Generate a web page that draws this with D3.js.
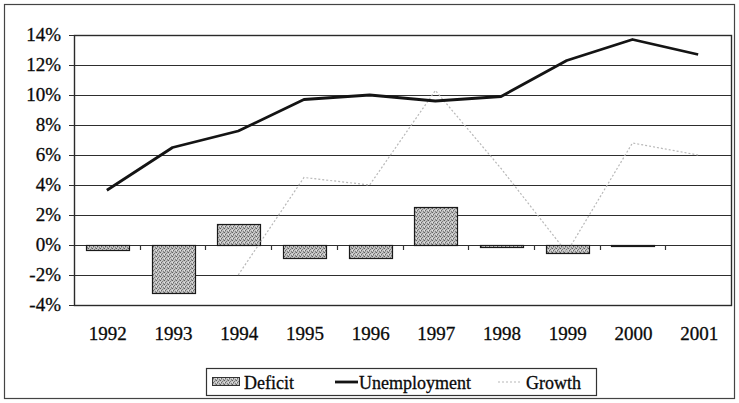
<!DOCTYPE html>
<html>
<head>
<meta charset="utf-8">
<script src="https://cdn.jsdelivr.net/npm/d3@7"></script>
<style>
  body { margin: 0; background: #fff; }
  svg { display: block; font-family: "Liberation Serif", "Times New Roman", serif; }
  text { fill: #0a0a0a; stroke: #0a0a0a; stroke-width: 0.3px; }
</style>
</head>
<body>
<svg id="chart" width="739" height="403"></svg>
<script>
// data (percent)
const years = ["1992", "1993", "1994", "1995", "1996", "1997", "1998", "1999", "2000", "2001"];
const deficit = [-0.35, -3.2, 1.4, -0.85, -0.85, 2.5, -0.15, -0.5, -0.08, 0];
const unemployment = [3.65, 6.5, 7.6, 9.7, 10.0, 9.6, 9.9, 12.3, 13.7, 12.7];
const growth = [null, null, -2.0, 4.5, 4.0, 10.3, 5.1, -0.5, 6.8, 6.0];
const yTicks = [-4, -2, 0, 2, 4, 6, 8, 10, 12, 14];

const svg = d3.select("#chart");
const plotL = 74, plotR = 731, plotT = 35, plotB = 305;

// speckled fill for the bars
const defs = svg.append("defs");
const pat = defs.append("pattern").attr("id", "speckle")
    .attr("width", 4).attr("height", 4).attr("patternUnits", "userSpaceOnUse");
pat.append("rect").attr("width", 4).attr("height", 4).attr("fill", "#c4c4c4");
[[0,0,"#5e5e5e"],[2,1,"#7a7a7a"],[1,2,"#6a6a6a"],[3,3,"#808080"],[3,0,"#999"],[1,3,"#a0a0a0"],[0,2,"#e4e4e4"]]
  .forEach(function (p) {
    pat.append("rect").attr("x", p[0]).attr("y", p[1]).attr("width", 1).attr("height", 1).attr("fill", p[2]);
  });

// outer frame
svg.append("rect").attr("x", 4.5).attr("y", 4.5).attr("width", 730).attr("height", 394)
    .attr("fill", "none").attr("stroke", "#444").attr("stroke-width", 1.2);

const x = d3.scaleBand().domain(years).range([plotL, plotR]).padding(0);
const y = d3.scaleLinear().domain([-4, 14]).range([plotB, plotT]);
const bw = x.bandwidth();

// grid lines + y ticks
svg.append("g").selectAll("line").data(yTicks).join("line")
    .attr("x1", plotL - 5).attr("x2", plotR)
    .attr("y1", d => Math.round(y(d)) + 0.5).attr("y2", d => Math.round(y(d)) + 0.5)
    .attr("stroke", "#2e2e2e").attr("stroke-width", 1.2);

// plot border
svg.append("rect").attr("x", plotL + 0.5).attr("y", Math.round(y(14)) + 0.5)
    .attr("width", plotR - plotL).attr("height", Math.round(y(-4)) - Math.round(y(14)))
    .attr("fill", "none").attr("stroke", "#2a2a2a").attr("stroke-width", 1.4);

// y labels
svg.append("g").selectAll("text").data(yTicks).join("text")
    .attr("x", 61).attr("y", d => y(d)).attr("dy", "0.34em")
    .attr("text-anchor", "end").attr("font-size", 19)
    .text(d => d + "%");

// bars
svg.append("g").selectAll("rect").data(deficit).join("rect")
    .attr("x", (d, i) => Math.round(x(years[i]) + bw * 0.18) + 0.5)
    .attr("width", Math.round(bw * 0.65))
    .attr("y", d => Math.round(y(Math.max(0, d))) + 0.5)
    .attr("height", d => Math.max(0, Math.round(Math.abs(y(d) - y(0)))))
    .attr("fill", "url(#speckle)")
    .attr("stroke", d => d === 0 ? "none" : "#1a1a1a").attr("stroke-width", 1.2);

// category ticks on the zero line
svg.append("g").selectAll("line").data(years.slice(1)).join("line")
    .attr("x1", d => Math.round(x(d)) + 0.5).attr("x2", d => Math.round(x(d)) + 0.5)
    .attr("y1", y(0)).attr("y2", y(0) + 5)
    .attr("stroke", "#333").attr("stroke-width", 1.2);

// x labels
svg.append("g").selectAll("text").data(years).join("text")
    .attr("x", d => x(d) + bw / 2 + 1).attr("y", 340)
    .attr("text-anchor", "middle").attr("font-size", 19)
    .text(d => d);

const cx = i => x(years[i]) + bw / 2;

// growth line
const gLine = d3.line().defined(d => d !== null).x((d, i) => cx(i)).y(d => y(d));
svg.append("path").datum(growth).attr("d", gLine)
    .attr("fill", "none").attr("stroke", "#b8b8b8").attr("stroke-width", 1.2)
    .attr("stroke-dasharray", "2,2");

// unemployment line
const uLine = d3.line().x((d, i) => cx(i)).y(d => y(d));
svg.append("path").datum(unemployment).attr("d", uLine)
    .attr("fill", "none").attr("stroke", "#141414").attr("stroke-width", 2.8)
    .attr("stroke-linejoin", "round");

// legend
const lg = svg.append("g");
lg.append("rect").attr("x", 206.5).attr("y", 368.5).attr("width", 390).attr("height", 27)
    .attr("fill", "#fff").attr("stroke", "#333").attr("stroke-width", 1.2);
lg.append("rect").attr("x", 212.5).attr("y", 377.5).attr("width", 27).attr("height", 8)
    .attr("fill", "url(#speckle)").attr("stroke", "#333").attr("stroke-width", 1);
lg.append("text").attr("x", 244).attr("y", 389).attr("font-size", 18).text("Deficit");
lg.append("line").attr("x1", 335).attr("x2", 358).attr("y1", 382).attr("y2", 382)
    .attr("stroke", "#141414").attr("stroke-width", 2.8);
lg.append("text").attr("x", 359).attr("y", 389).attr("font-size", 18).text("Unemployment");
lg.append("line").attr("x1", 498).attr("x2", 522).attr("y1", 382).attr("y2", 382)
    .attr("stroke", "#b8b8b8").attr("stroke-width", 1.2).attr("stroke-dasharray", "2,2");
lg.append("text").attr("x", 526).attr("y", 389).attr("font-size", 18).text("Growth");
</script>
</body>
</html>
